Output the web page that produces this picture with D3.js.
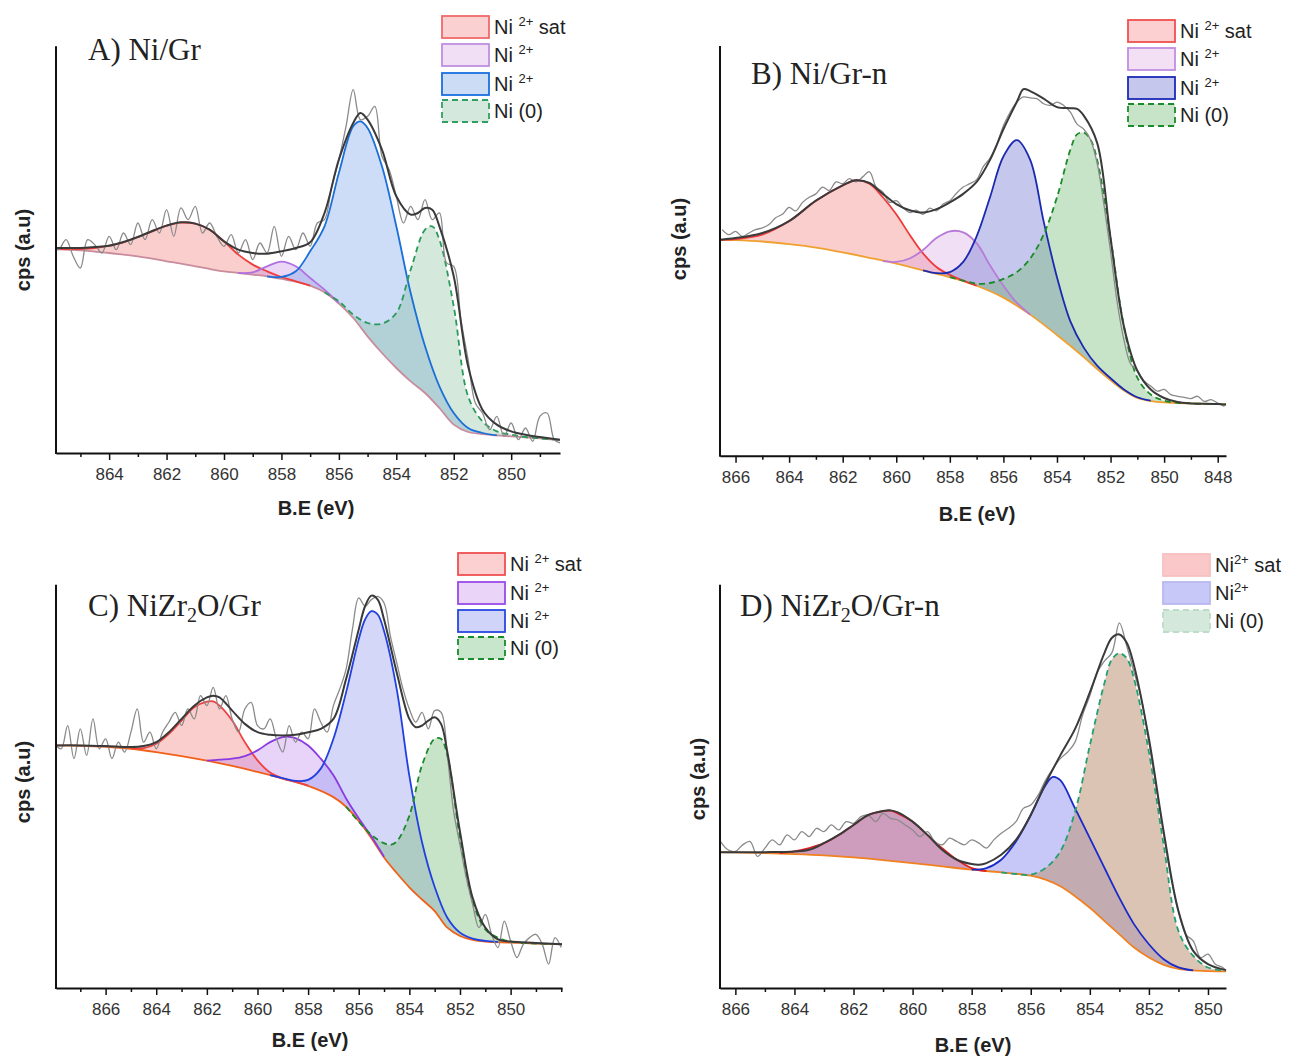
<!DOCTYPE html>
<html><head><meta charset="utf-8">
<script src="https://cdn.jsdelivr.net/npm/d3@7"></script>
<style>
body{margin:0;background:#fff}
text{font-family:"Liberation Sans",Arial,sans-serif}
text.ttl{font-family:"Liberation Serif","Times New Roman",serif}
</style>
</head><body>
<svg id="chart" width="1289" height="1057"></svg>
<script>
// ---------------- Panel A : Ni/Gr ----------------
const A_bg = [[865.85,612],[865,608],[864.5,604],[864,600],[863.5,595],[863,590],[862.5,583],[862,575],[861.5,568],[861,560],[860.5,552],[860,545],[859.5,540],[859,535],[858.5,530],[858,522],[857.5,514],[857,502],[856.5,482],[856,448],[855.5,405],[855,350],[854.5,300],[854,255],[853.5,215],[853,180],[852.5,135],[852,85],[851.5,63],[851,57],[850.5,53],[850,50],[849.5,47],[849,44],[848.5,40],[848.3,38]];
const A_sat = [[865.85,612],[865,612],[864.5,615],[864,622],[863.5,632],[863,648],[862.5,665],[862,682],[861.5,691],[861,688],[860.5,670],[860,635],[859.5,595],[859,565],[858.5,545],[858,528],[857.5,515],[857,502]];
const A_ni2b = [[859.5,540],[859,542],[858.5,560],[858,574],[857.5,560],[857,525],[856.5,490],[856,450]];
const A_ni2 = [[858.5,530],[858,528],[857.5,545],[857,605],[856.5,680],[856,840],[855.5,980],[855.25,995],[855,975],[854.5,860],[854,680],[853.5,480],[853,320],[852.5,200],[852,120],[851.5,75],[851,60],[850.5,53]];
const A_ni0 = [[856.5,482],[856,455],[855.5,415],[855,390],[854.5,388],[854,420],[853.5,550],[853,670],[852.75,680],[852.5,640],[852,440],[851.5,170],[851,95],[850.5,65],[850,55],[849.5,48],[849,44],[848.5,40],[848.3,38]];
const A_env = [[865.85,615],[865,615],[864.5,618],[864,622],[863.5,633],[863,648],[862.5,666],[862,682],[861.5,692],[861,688],[860.5,670],[860,635],[859.5,610],[859,600],[858.5,598],[858,605],[857.5,615],[857,632],[856.5,720],[856,880],[855.5,990],[855.25,1020],[855,1000],[854.5,910],[854,770],[853.5,715],[853.25,720],[853,735],[852.75,730],[852.5,680],[852,530],[851.5,260],[851,130],[850.5,85],[850,65],[849.5,55],[849,48],[848.5,42],[848.3,40]];
const A_raw = [[865.85,612],[865.75,610],[865.5,640],[865.25,590],[865,555],[864.75,640],[864.5,625],[864.25,600],[864,650],[863.75,610],[863.5,660],[863.25,625],[863,690],[862.75,640],[862.5,700],[862.25,660],[862,730],[861.75,650],[861.5,735],[861.25,700],[861,740],[860.75,660],[860.5,690],[860.25,650],[860,620],[859.75,655],[859.5,600],[859.25,640],[859,580],[858.75,630],[858.5,600],[858.25,680],[858,590],[857.75,650],[857.5,610],[857.25,660],[857,620],[856.75,690],[856.5,700],[856.25,800],[856,880],[855.75,980],[855.5,1090],[855.25,1000],[855,1010],[854.75,1040],[854.5,890],[854.25,850],[854,770],[853.75,690],[853.5,740],[853.25,700],[853,760],[852.75,700],[852.5,720],[852.25,570],[852,560],[851.75,400],[851.5,280],[851.25,150],[851,120],[850.75,70],[850.5,110],[850.25,50],[850,90],[849.75,40],[849.5,75],[849.25,35],[849,110],[848.75,120],[848.5,40],[848.3,30]];

// ---------------- Panel B : Ni/Gr-n ----------------
const B_bg = [[866.58,635],[866,634],[865,630],[864,622],[863,612],[862,598],[861,582],[860,565],[859,545],[858,525],[857,500],[856,465],[855,415],[854,355],[853,290],[852.5,255],[852,222],[851.5,192],[851,170],[850.5,161],[850,157],[849,154],[848,152],[847.69,152]];
const B_sat = [[866.58,635],[866,637],[865,650],[864,690],[863,750],[862,795],[861.5,810],[861,800],[860.5,760],[860,710],[859.5,650],[859,595],[858.5,555],[858,532],[857.5,515],[857,500]];
const B_ni2b = [[860.5,572],[860,570],[859.5,580],[859,605],[858.5,640],[858,660],[857.5,657],[857,625],[856.5,560],[856,500],[855.5,450],[855,415]];
const B_ni2 = [[859,545],[858.5,537],[858,540],[857.5,570],[857,645],[856.5,760],[856,880],[855.5,928],[855,870],[854.5,690],[854,525],[853.5,395],[853,318],[852.5,265],[852,228],[851.5,195],[851,172],[850.5,162]];
const B_ni0 = [[858,525],[857.5,515],[857,506],[856.5,508],[856,520],[855.5,540],[855,580],[854.5,650],[854,760],[853.5,900],[853.25,945],[853,950],[852.75,930],[852.5,870],[852,640],[851.5,380],[851,230],[850.5,180],[850,162],[849.5,156],[849,154],[848,152],[847.69,152]];
const B_env = [[866.58,635],[866,640],[865,655],[864,690],[863,750],[862,795],[861.5,810],[861,802],[860.5,770],[860,740],[859.5,722],[859,715],[858.5,725],[858,745],[857.5,770],[857,805],[856.5,870],[856,960],[855.5,1040],[855.25,1078],[855,1072],[854.5,1050],[854,1025],[853.5,1022],[853.25,1020],[853,1000],[852.5,920],[852,640],[851.5,380],[851,250],[850.5,195],[850,170],[849.5,158],[849,154],[848,152],[847.69,150]];
const B_raw = [[866.5,665],[866.25,650],[866,660],[865.75,645],[865.5,655],[865.25,665],[865,670],[864.75,680],[864.5,700],[864.25,710],[864,730],[863.75,720],[863.5,745],[863.25,760],[863,770],[862.75,790],[862.5,780],[862.25,805],[862,800],[861.75,815],[861.5,805],[861.25,820],[861,835],[860.75,790],[860.5,775],[860.25,745],[860,750],[859.75,730],[859.5,715],[859.25,722],[859,710],[858.75,728],[858.5,720],[858.25,740],[858,750],[857.75,772],[857.5,790],[857.25,800],[857,812],[856.75,850],[856.5,875],[856.25,915],[856,970],[855.75,1010],[855.5,1040],[855.25,1055],[855,1052],[854.75,1050],[854.5,1035],[854.25,1030],[854,1040],[853.75,1030],[853.5,1010],[853.25,975],[853,960],[852.75,930],[852.5,860],[852.25,740],[852,600],[851.75,450],[851.5,340],[851.25,270],[851,250],[850.75,220],[850.5,205],[850.25,190],[850,195],[849.75,180],[849.5,175],[849.25,172],[849,168],[848.75,175],[848.5,160],[848.25,165],[848,155],[847.75,145]];

// ---------------- Panel C : NiZr2O/Gr ----------------
const C_bg = [[867.96,732],[867,731],[866,728],[865,722],[864,712],[863,700],[862,686],[861,670],[860,652],[859,632],[858,610],[857,576],[856.5,547],[856,504],[855.5,452],[855,394],[854.5,347],[854,304],[853.5,267],[853,232],[852.5,182],[852,157],[851.5,145],[851,140],[850,137],[849,134],[847.97,132]];
const C_sat = [[865,724],[864.5,724],[864,737],[863.5,767],[863,807],[862.5,847],[862,864],[861.75,865],[861.5,852],[861,807],[860.5,742],[860,687],[859.5,650],[859,632],[858.5,622],[858,611]];
const C_ni2b = [[862,686],[861.5,689],[861,692],[860.5,700],[860,717],[859.5,742],[859,757],[858.75,758],[858.5,754],[858,732],[857.5,692],[857,642],[856.5,572],[856,512],[855.5,457],[855,396]];
const C_ni2 = [[859.5,642],[859,633],[858.5,625],[858,628],[857.5,662],[857,752],[856.5,892],[856,1052],[855.75,1112],[855.5,1137],[855.25,1127],[855,1077],[854.5,902],[854,640],[853.5,440],[853,305],[852.5,212],[852,167],[851.5,149],[851,142],[850.5,139]];
const C_ni0 = [[856.5,547],[856,502],[855.5,462],[855,437],[854.75,432],[854.5,442],[854,520],[853.5,672],[853,752],[852.75,752],[852.5,702],[852,452],[851.5,262],[851,177],[850.5,152],[850,140],[849,134],[847.97,132]];
const C_env = [[867.96,732],[867,732],[866,730],[865,727],[864.5,730],[864,742],[863.5,772],[863,812],[862.5,852],[862,877],[861.75,882],[861.5,877],[861,837],[860.5,797],[860,772],[859.5,764],[859,762],[858.5,764],[858,772],[857.5,782],[857,812],[856.5,932],[856,1082],[855.75,1152],[855.5,1184],[855.25,1172],[855,1112],[854.5,952],[854,812],[853.75,787],[853.5,792],[853.25,807],[853,817],[852.75,797],[852.5,712],[852,472],[851.5,272],[851,182],[850.5,147],[850,140],[849,136],[847.97,132]];
const C_raw = [[867.96,732],[867.75,722],[867.5,792],[867.25,692],[867,782],[866.75,702],[866.5,812],[866.25,722],[866,752],[865.75,692],[865.5,742],[865.25,712],[865,772],[864.75,842],[864.5,742],[864.25,772],[864,722],[863.75,772],[863.5,802],[863.25,832],[863,792],[862.75,842],[862.5,812],[862.25,882],[862,852],[861.75,907],[861.5,842],[861.25,882],[861,812],[860.75,772],[860.5,842],[860.25,862],[860,792],[859.75,782],[859.5,812],[859.25,752],[859,712],[858.75,792],[858.5,742],[858.25,772],[858,752],[857.75,842],[857.5,802],[857.25,772],[857,852],[856.75,902],[856.5,962],[856.25,1082],[856,1177],[855.75,1152],[855.5,1172],[855.25,1182],[855,1162],[854.75,1062],[854.5,982],[854.25,902],[854,842],[853.75,802],[853.5,832],[853.25,782],[853,837],[852.75,832],[852.5,702],[852.25,532],[852,432],[851.75,332],[851.5,252],[851.25,182],[851,222],[850.75,162],[850.5,122],[850.25,202],[850,142],[849.75,92],[849.5,132],[849.25,152],[849,162],[848.75,132],[848.5,72],[848.25,152],[848,122]];

// ---------------- Panel D : NiZr2O/Gr-n ----------------
const D_bg = [[866.52,410],[866,409],[865,407],[864,404],[863,400],[862,394],[861,386],[860,377],[859,367],[858,357],[857,349],[856,339],[855.5,327],[855,307],[854.5,277],[854,242],[853.5,202],[853,162],[852.5,122],[852,92],[851.5,70],[851,58],[850.5,53],[850,51],[849.39,50]];
const D_sat = [[864.5,407],[864,412],[863.5,422],[863,437],[862.5,462],[862,492],[861.5,522],[861,534],[860.75,535],[860.5,527],[860,502],[859.5,462],[859,422],[858.5,387],[858,362],[857.5,353]];
const D_ni2 = [[858,357],[857.5,362],[857,387],[856.5,442],[856,522],[855.5,612],[855.25,637],[855,627],[854.5,542],[854,452],[853.5,362],[853,272],[852.5,192],[852,132],[851.5,87],[851,62],[850.5,53]];
const D_ni0 = [[857,349],[856.5,344],[856,342],[855.5,362],[855,412],[854.5,532],[854,732],[853.5,922],[853.25,992],[853,1010],[852.75,995],[852.5,932],[852,712],[851.5,432],[851,172],[850.5,97],[850,62],[849.39,52]];
const D_env = [[866.52,410],[866,410],[865,410],[864,412],[863.5,417],[863,437],[862.5,462],[862,492],[861.5,522],[861,534],[860.75,536],[860.5,530],[860,502],[859.5,462],[859,417],[858.5,387],[858,374],[857.75,372],[857.5,377],[857,402],[856.5,447],[856,522],[855.5,617],[855,702],[854.5,782],[854,892],[853.5,1012],[853.25,1057],[853,1067],[852.75,1042],[852.5,972],[852,752],[851.5,472],[851,232],[850.5,112],[850,72],[849.39,54]];
const D_raw = [[866.5,442],[866.25,417],[866,412],[865.75,432],[865.5,442],[865.25,397],[865,422],[864.75,447],[864.5,432],[864.25,462],[864,447],[863.75,472],[863.5,457],[863.25,482],[863,472],[862.75,492],[862.5,477],[862.25,502],[862,497],[861.75,517],[861.5,522],[861.25,502],[861,527],[860.75,512],[860.5,507],[860.25,492],[860,477],[859.75,457],[859.5,472],[859.25,442],[859,432],[858.75,452],[858.5,442],[858.25,432],[858,447],[857.75,437],[857.5,422],[857.25,447],[857,467],[856.75,482],[856.5,502],[856.25,542],[856,552],[855.75,582],[855.5,627],[855.25,662],[855,692],[854.75,712],[854.5,742],[854.25,822],[854,882],[853.75,952],[853.5,987],[853.25,1012],[853,1102],[852.75,1032],[852.5,952],[852.25,872],[852,742],[851.75,602],[851.5,462],[851.25,332],[851,232],[850.75,162],[850.5,142],[850.25,92],[850,102],[849.75,72],[849.5,62],[849.39,52]];

// tick labels
const A_major = [864,862,860,858,856,854,852,850], A_minor = [865,863,861,859,857,855,853,851,849];
const B_major = [866,864,862,860,858,856,854,852,850,848], B_minor = [865,863,861,859,857,855,853,851,849];
const C_major = [866,864,862,860,858,856,854,852,850], C_minor = [867,865,863,861,859,857,855,853,851,849,848];
const D_major = [866,864,862,860,858,856,854,852,850], D_minor = [865,863,861,859,857,855,853,851];

const svg = d3.select('#chart');

const panels = [
 {x0:56,x1:560,yTop:46.3,yBot:453,dom:[865.85,848.3],hMax:1220,major:A_major,minor:A_minor,
  bg:A_bg,bgCol:'#c98c9c',env:A_env,raw:A_raw,
  comps:[
   {d:A_sat,line:'#ef3e3e',fill:'rgba(240,80,80,0.28)'},
   {d:A_ni2b,line:'#b070e0',fill:'rgba(190,120,225,0.3)'},
   {d:A_ni2,line:'#1a6fd8',fill:'rgba(100,150,230,0.32)'},
   {d:A_ni0,line:'#2a9a5a',fill:'rgba(122,182,145,0.32)',dash:true}],
  title:[['A) Ni/Gr',null]],tx:88,ty:60,
  xtX:316,xtY:515,ytX:30,ytY:250,
  leg:{x:442,rows:[16,44,73,100],items:[
   {t:['Ni ','2+',' sat'],fill:'#fbd0d0',stroke:'#f06a6a'},
   {t:['Ni ','2+',''],fill:'#f1dff6',stroke:'#c08ee0'},
   {t:['Ni ','2+',''],fill:'#ccdcf5',stroke:'#1a70e0'},
   {t:['Ni (0)','',''],fill:'#d5e8de',stroke:'#30a060',dash:true}]}},
 {x0:720,x1:1226,yTop:45.9,yBot:455.8,dom:[866.58,847.69],hMax:1205,major:B_major,minor:B_minor,
  bg:B_bg,bgCol:'#f0a030',env:B_env,raw:B_raw,
  comps:[
   {d:B_sat,line:'#f03a3a',fill:'rgba(240,80,80,0.28)'},
   {d:B_ni2b,line:'#b77ad8',fill:'rgba(210,150,225,0.3)'},
   {d:B_ni2,line:'#1a2ab0',fill:'rgba(110,117,207,0.4)'},
   {d:B_ni0,line:'#1a8a2a',fill:'rgba(117,187,117,0.4)',dash:true}],
  title:[['B) Ni/Gr-n',null]],tx:751,ty:84,
  xtX:977,xtY:521,ytX:686,ytY:239,
  leg:{x:1128,rows:[20,48,77,104],items:[
   {t:['Ni ','2+',' sat'],fill:'#fcd0d0',stroke:'#f05050'},
   {t:['Ni ','2+',''],fill:'#f3e0f5',stroke:'#c08ee0'},
   {t:['Ni ','2+',''],fill:'#c5c8ec',stroke:'#1a2ab8'},
   {t:['Ni (0)','',''],fill:'#c8e4c8',stroke:'#1a8a2a',dash:true}]}},
 {x0:56,x1:562,yTop:584.7,yBot:988,dom:[867.96,847.97],hMax:1217,major:C_major,minor:C_minor,
  bg:C_bg,bgCol:'#f0601a',env:C_env,raw:C_raw,
  comps:[
   {d:C_sat,line:'#f04040',fill:'rgba(240,80,80,0.28)'},
   {d:C_ni2b,line:'#8a3ae0',fill:'rgba(180,110,235,0.3)'},
   {d:C_ni2,line:'#2040e0',fill:'rgba(150,155,240,0.4)'},
   {d:C_ni0,line:'#1a8a2a',fill:'rgba(117,187,117,0.4)',dash:true}],
  title:[['C) NiZr',null],['2','sub'],['O/Gr',null]],tx:88,ty:616,
  xtX:310,xtY:1047,ytX:30,ytY:782,
  leg:{x:458,rows:[553,582,610,637],items:[
   {t:['Ni ','2+',' sat'],fill:'#fcd0d0',stroke:'#f05050'},
   {t:['Ni ','2+',''],fill:'#ead5f8',stroke:'#9a4ae8'},
   {t:['Ni ','2+',''],fill:'#d0d4f8',stroke:'#2848e0'},
   {t:['Ni (0)','',''],fill:'#c8e6cc',stroke:'#1a8a2a',dash:true}]}},
 {x0:720,x1:1226,yTop:584.7,yBot:988,dom:[866.52,849.39],hMax:1217,major:D_major,minor:D_minor,
  bg:D_bg,bgCol:'#f08020',env:D_env,raw:D_raw,
  comps:[
   {d:D_sat,line:'#e02020',fill:'rgba(170,85,142,0.58)'},
   {d:D_ni2,line:'#1a2ac8',fill:'rgba(117,117,237,0.4)'},
   {d:D_ni0,line:'#22a070',fill:'rgba(192,148,120,0.55)',dash:true}],
  title:[['D) NiZr',null],['2','sub'],['O/Gr-n',null]],tx:740,ty:616,
  xtX:973,xtY:1052,ytX:705,ytY:779,
  leg:{x:1163,rows:[554,582,610],items:[
   {t:['Ni','2+',' sat'],fill:'#fac8c8',stroke:'#f8c0c0'},
   {t:['Ni','2+',''],fill:'#c8c8f8',stroke:'#b8b8f0'},
   {t:['Ni (0)','',''],fill:'#d4e8dc',stroke:'#bcdcc8',dash:true}]}}
];

panels.forEach(p => {
  const g = svg.append('g');
  const x = d3.scaleLinear().domain(p.dom).range([p.x0,p.x1]);
  const y = d3.scaleLinear().domain([0,p.hMax]).range([p.yBot,p.yTop]);
  const line = d3.line().x(d=>x(d[0])).y(d=>y(d[1])).curve(d3.curveCatmullRom.alpha(0.5));

  // filled components (between component and background)
  p.comps.forEach(c => {
    const eHi = c.d[0][0], eLo = c.d[c.d.length-1][0];
    const seg = p.bg.filter(d => d[0] < eHi && d[0] > eLo).slice().reverse();
    g.append('path').attr('d', line(c.d.concat(seg)) + 'Z')
      .attr('fill', c.fill).attr('stroke','none');
  });
  // background line
  g.append('path').attr('d', line(p.bg)).attr('fill','none')
    .attr('stroke', p.bgCol).attr('stroke-width',1.8);
  // component lines
  p.comps.forEach(c => {
    g.append('path').attr('d', line(c.d)).attr('fill','none')
      .attr('stroke', c.line).attr('stroke-width',1.8)
      .attr('stroke-dasharray', c.dash ? '6,4' : null);
  });
  // raw data
  g.append('path').attr('d', line(p.raw)).attr('fill','none')
    .attr('stroke','#8a8a8a').attr('stroke-width',1.3);
  // envelope
  g.append('path').attr('d', line(p.env)).attr('fill','none')
    .attr('stroke','#3a3a3a').attr('stroke-width',2);

  // axes
  const ax = g.append('g').attr('transform',`translate(0,${p.yBot})`)
    .call(d3.axisBottom(x).tickValues(p.major).tickSize(7).tickSizeOuter(0).tickPadding(8).tickFormat(d3.format('d')));
  ax.select('.domain').attr('stroke','#111').attr('stroke-width',2);
  ax.selectAll('.tick line').attr('stroke','#111').attr('stroke-width',1.5);
  ax.selectAll('.tick text').attr('font-size',17).attr('fill','#333')
    .style('font-family','"Liberation Sans",Arial,sans-serif');
  const axm = g.append('g').attr('transform',`translate(0,${p.yBot})`)
    .call(d3.axisBottom(x).tickValues(p.minor).tickSize(4).tickFormat(''));
  axm.select('.domain').remove();
  axm.selectAll('.tick line').attr('stroke','#111').attr('stroke-width',1.5);
  g.append('line').attr('x1',p.x0).attr('x2',p.x0).attr('y1',p.yTop).attr('y2',p.yBot+1)
    .attr('stroke','#111').attr('stroke-width',2);

  // axis titles
  g.append('text').attr('x',p.xtX).attr('y',p.xtY).attr('text-anchor','middle')
    .attr('font-weight','bold').attr('font-size',20).attr('fill','#222').text('B.E (eV)');
  g.append('text').attr('transform',`translate(${p.ytX},${p.ytY}) rotate(-90)`)
    .attr('text-anchor','middle').attr('font-weight','bold').attr('font-size',20)
    .attr('fill','#222').text('cps (a.u)');

  // panel title (serif)
  const t = g.append('text').attr('class','ttl').attr('x',p.tx).attr('y',p.ty)
    .attr('font-size',31).attr('fill','#222');
  p.title.forEach((s,i) => {
    if (s[1]==='sub') {
      t.append('tspan').attr('font-size',20).attr('dy',6).text(s[0]);
    } else {
      const ts = t.append('tspan').text(s[0]);
      if (i>0) ts.attr('dy',-6);
    }
  });

  // legend
  p.leg.items.forEach((it,i) => {
    const ry = p.leg.rows[i];
    g.append('rect').attr('x',p.leg.x).attr('y',ry).attr('width',47).attr('height',22)
      .attr('fill',it.fill).attr('stroke',it.stroke).attr('stroke-width',1.8)
      .attr('stroke-dasharray', it.dash ? '6,4' : null);
    const tx = g.append('text').attr('x',p.leg.x+52).attr('y',ry+18).attr('font-size',20).attr('fill','#222');
    tx.append('tspan').text(it.t[0]);
    if (it.t[1]) {
      tx.append('tspan').attr('font-size',13).attr('dy',-8).text(it.t[1]);
      if (it.t[2]) tx.append('tspan').attr('dy',8).text(it.t[2]);
    }
  });
});
</script>
</body></html>
